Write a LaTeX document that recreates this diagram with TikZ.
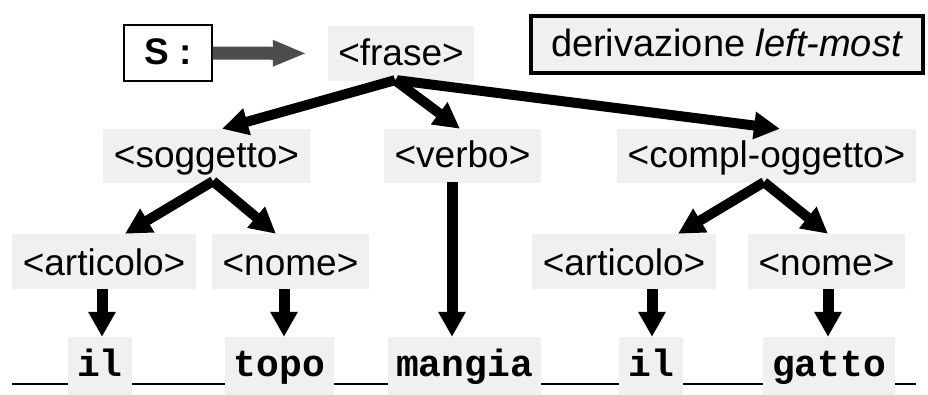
\documentclass[tikz,border=0pt]{standalone}
\usepackage{fontspec}
\setmainfont{Liberation Sans}
\setmonofont{Liberation Mono}
\usetikzlibrary{arrows.meta}
\definecolor{boxgray}{HTML}{F0F0F0}
\definecolor{arrowgray}{HTML}{4D4D4D}
\begin{document}
\begin{tikzpicture}[x=1pt,y=-1pt,
  lbl/.style={fill=boxgray, inner sep=0pt, minimum height=55pt,
    font=\fontsize{37}{41}\selectfont, text height=26pt, text depth=2pt},
  lbllow/.style={lbl, text height=30pt},
  word/.style={fill=boxgray, inner sep=0pt, minimum height=58pt,
    font=\fontsize{38}{42}\selectfont\ttfamily\bfseries, text height=28pt, text depth=8pt},
  treearrow/.style={line width=10pt, -{Triangle[length=26pt,width=26pt]}},
  downarrow/.style={line width=11pt, -{Triangle[length=25pt,width=26pt]}}]
\useasboundingbox (0,0) rectangle (928,395);

% baseline under the derived sentence
\draw[line width=2pt] (12,384) -- (916,384);

% start symbol and title
\node[draw, line width=1.3pt, fill=white, minimum width=88pt, minimum height=56pt,
  inner sep=0pt, font=\fontsize{37}{40}\selectfont\bfseries, text height=27pt, text depth=3pt]
  (S) at (168,53) {S :};
\node[draw, line width=4pt, fill=boxgray, minimum width=392pt, minimum height=57pt,
  inner sep=0pt, font=\fontsize{38}{42}\selectfont, text height=27pt, text depth=3pt]
  (title) at (727,44.5) {derivazione \textit{left-most}};

% grammar symbols
\node[lbl, minimum width=146pt] (frase) at (401,53.5) {<frase>};
\node[lbl, minimum width=207pt, minimum height=54pt] (sogg) at (206.5,156) {<soggetto>};
\node[lbl, minimum width=157pt, minimum height=54pt] (verbo) at (462.5,156) {<verbo>};
\node[lbl, minimum width=299pt, minimum height=54pt] (compl) at (766.5,156) {<compl-oggetto>};
\node[lbllow, minimum width=184pt] (artL) at (104,261.5) {<articolo>};
\node[lbllow, minimum width=157pt] (nomeL) at (290.5,261.5) {<nome>};
\node[lbllow, minimum width=184pt] (artR) at (624,261.5) {<articolo>};
\node[lbllow, minimum width=157pt] (nomeR) at (826.5,261.5) {<nome>};

% terminal words
\node[word, minimum width=64pt] (il1) at (100,366) {il};
\node[word, minimum width=109pt] (topo) at (279.5,366) {topo};
\node[word, minimum width=153pt] (mangia) at (464.5,366) {mangia};
\node[word, minimum width=64pt] (il2) at (651,366) {il};
\node[word, minimum width=132pt] (gatto) at (829,366) {gatto};

% start arrow
\draw[arrowgray, line width=13pt, -{Triangle[length=34pt,width=24pt]}, shorten >=21pt]
  (S.east) -- (frase.west);

% derivation tree
\draw[treearrow] ([xshift=-6pt,yshift=1pt]frase.south) -- ([xshift=15.5pt]sogg.north);
\draw[treearrow] ([xshift=-6pt,yshift=1pt]frase.south) -- ([xshift=-2.5pt]verbo.north);
\draw[treearrow] ([xshift=-4pt,yshift=1pt]frase.south) -- ([xshift=13.5pt]compl.north);
\draw[treearrow] ([xshift=6.5pt,yshift=2pt]sogg.south) -- ([xshift=21pt]artL.north);
\draw[treearrow] ([xshift=6.5pt,yshift=2pt]sogg.south) -- ([xshift=-14.5pt]nomeL.north);
\draw[treearrow] ([xshift=-2.5pt,yshift=1pt]compl.south) -- ([xshift=54pt]artR.north);
\draw[treearrow] ([xshift=-2.5pt,yshift=1pt]compl.south) -- ([xshift=1.5pt]nomeR.north);

\draw[downarrow] ([xshift=-2pt]artL.south) -- ([xshift=2pt]il1.north);
\draw[downarrow] ([xshift=-6.5pt]nomeL.south) -- ([xshift=4.5pt]topo.north);
\draw[downarrow] ([xshift=-10.5pt,yshift=1pt]verbo.south) -- ([xshift=-12.5pt]mangia.north);
\draw[downarrow] ([xshift=28pt]artR.south) -- ([xshift=1pt]il2.north);
\draw[downarrow] ([xshift=1.5pt]nomeR.south) -- ([xshift=-1pt]gatto.north);
\end{tikzpicture}
\end{document}
